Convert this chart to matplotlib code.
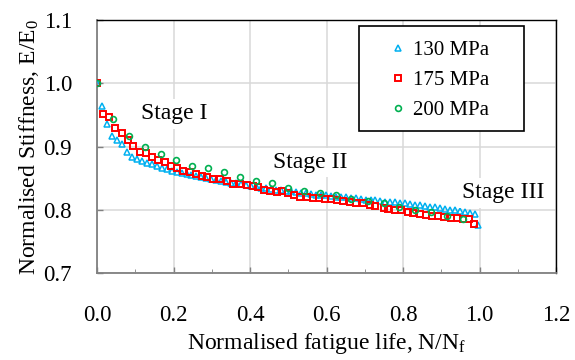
import matplotlib
matplotlib.use("Agg")
import matplotlib.pyplot as plt
from matplotlib.patches import Rectangle

plt.rcParams['font.family'] = ['Liberation Serif', 'DejaVu Serif']
plt.rcParams['mathtext.fontset'] = 'custom'
plt.rcParams['mathtext.rm'] = 'Liberation Serif'
plt.rcParams['mathtext.it'] = 'Liberation Serif'

# 130 MPa
x_130 = [0.000, 0.013, 0.026, 0.039, 0.052, 0.065, 0.078, 0.091, 0.104, 0.117,
         0.130, 0.143, 0.156, 0.169, 0.182, 0.195, 0.208, 0.221, 0.234, 0.247,
         0.260, 0.273, 0.286, 0.299, 0.312, 0.325, 0.338, 0.351, 0.364, 0.377,
         0.390, 0.403, 0.416, 0.429, 0.442, 0.455, 0.468, 0.481, 0.494, 0.507,
         0.520, 0.533, 0.546, 0.559, 0.572, 0.585, 0.598, 0.611, 0.624, 0.637,
         0.650, 0.663, 0.676, 0.689, 0.702, 0.715, 0.728, 0.741, 0.754, 0.767,
         0.780, 0.793, 0.806, 0.819, 0.832, 0.845, 0.858, 0.871, 0.884, 0.897,
         0.910, 0.923, 0.936, 0.949, 0.962, 0.975, 0.987, 0.996]
y_130 = [1.000, 0.964, 0.935, 0.917, 0.910, 0.904, 0.892, 0.884, 0.881, 0.877,
         0.874, 0.872, 0.869, 0.866, 0.864, 0.862, 0.860, 0.858, 0.857, 0.855,
         0.853, 0.852, 0.850, 0.848, 0.847, 0.846, 0.844, 0.843, 0.842, 0.840,
         0.839, 0.838, 0.837, 0.835, 0.834, 0.833, 0.832, 0.831, 0.830, 0.829,
         0.828, 0.827, 0.826, 0.825, 0.824, 0.823, 0.823, 0.822, 0.821, 0.820,
         0.820, 0.819, 0.818, 0.817, 0.816, 0.816, 0.815, 0.814, 0.813, 0.812,
         0.812, 0.811, 0.810, 0.809, 0.808, 0.807, 0.806, 0.805, 0.804, 0.803,
         0.802, 0.800, 0.799, 0.798, 0.796, 0.795, 0.793, 0.776]

# 175 MPa
x_175 = [0.000, 0.015, 0.032, 0.047, 0.065, 0.082, 0.095, 0.112, 0.128, 0.143,
         0.160, 0.178, 0.193, 0.210, 0.226, 0.243, 0.259, 0.274, 0.288, 0.304,
         0.322, 0.339, 0.356, 0.374, 0.391, 0.409, 0.422, 0.437, 0.452, 0.470,
         0.483, 0.499, 0.515, 0.531, 0.548, 0.564, 0.580, 0.596, 0.612, 0.627,
         0.644, 0.661, 0.677, 0.696, 0.714, 0.727, 0.749, 0.762, 0.779, 0.795,
         0.812, 0.827, 0.845, 0.860, 0.875, 0.891, 0.908, 0.925, 0.940, 0.958,
         0.973, 0.986]
y_175 = [1.000, 0.952, 0.946, 0.929, 0.921, 0.910, 0.901, 0.892, 0.890, 0.883,
         0.878, 0.876, 0.869, 0.866, 0.862, 0.860, 0.857, 0.854, 0.852, 0.849,
         0.848, 0.846, 0.840, 0.841, 0.839, 0.837, 0.836, 0.832, 0.829, 0.828,
         0.829, 0.827, 0.824, 0.821, 0.821, 0.818, 0.818, 0.817, 0.817, 0.816,
         0.814, 0.812, 0.811, 0.810, 0.808, 0.806, 0.803, 0.802, 0.800, 0.799,
         0.797, 0.795, 0.793, 0.792, 0.790, 0.790, 0.788, 0.787, 0.787, 0.785,
         0.786, 0.777]

# 200 MPa
x_200 = [0.000, 0.041, 0.084, 0.125, 0.166, 0.207, 0.249, 0.291, 0.333, 0.375,
         0.416, 0.458, 0.499, 0.540, 0.582, 0.624, 0.664, 0.708, 0.749, 0.790,
         0.832, 0.873, 0.916, 0.958]
y_200 = [1.000, 0.943, 0.917, 0.900, 0.889, 0.879, 0.870, 0.866, 0.859, 0.852,
         0.846, 0.842, 0.834, 0.830, 0.826, 0.823, 0.817, 0.814, 0.810, 0.804,
         0.800, 0.796, 0.790, 0.785]

stage_labels = ['Stage I', 'Stage II', 'Stage III']
stage_x = [0.203, 0.557, 1.063]
stage_y = [0.943, 0.866, 0.818]

fig = plt.figure(figsize=(5.75, 3.6), dpi=100)
ax = fig.add_axes([0.1687, 0.2417, 0.7983, 0.7023])

ax.plot(x_130, y_130, linestyle='none', marker='^', markersize=4.6,
        markerfacecolor='none', markeredgecolor='#00B0F0', markeredgewidth=1.1,
        label='130 MPa', zorder=3)
ax.plot(x_175, y_175, linestyle='none', marker='s', markersize=4.5,
        markerfacecolor='none', markeredgecolor='#FF0000', markeredgewidth=1.4,
        label='175 MPa', zorder=4)
ax.plot(x_200, y_200, linestyle='none', marker='o', markersize=4.2,
        markerfacecolor='none', markeredgecolor='#00B050', markeredgewidth=1.2,
        label='200 MPa', zorder=5)

ax.set_xlim(0, 1.2)
ax.set_ylim(0.7, 1.1)
ax.set_xticks([0.0, 0.2, 0.4, 0.6, 0.8, 1.0, 1.2])
ax.set_yticks([0.7, 0.8, 0.9, 1.0, 1.1])
ax.set_xticks([0.1, 0.3, 0.5, 0.7, 0.9, 1.1], minor=True)
ax.set_xticklabels(['0.0', '0.2', '0.4', '0.6', '0.8', '1.0', '1.2'])
ax.set_yticklabels(['0.7', '0.8', '0.9', '1.0', '1.1'])
ax.grid(True, which='major', color='#D9D9D9', linewidth=1.1, zorder=0)
ax.set_axisbelow(True)

ax.tick_params(axis='both', which='major', direction='in', length=4,
               color='#808080', labelsize=16.5, width=1)
ax.tick_params(axis='x', which='minor', direction='in', length=3, color='#808080')
ax.tick_params(axis='x', pad=23)
ax.tick_params(axis='y', pad=18)

for side in ['left', 'bottom']:
    ax.spines[side].set_color('#808080')
    ax.spines[side].set_linewidth(1.3)
for side in ['top', 'right']:
    ax.spines[side].set_color('black')
    ax.spines[side].set_linewidth(1.0)

ax.set_xlabel('Normalised fatigue life, N/N$_\\mathrm{f}$', fontsize=17, labelpad=4)
ax.set_ylabel('Normalised Stiffness, E/E$_\\mathrm{0}$', fontsize=17, labelpad=2)

for lab, sx, sy in zip(stage_labels, stage_x, stage_y):
    ax.text(sx, sy, lab, fontsize=17, ha='center', va='baseline', zorder=6,
            bbox=dict(facecolor='white', edgecolor='none', pad=3))

leg = ax.legend(loc='center', bbox_to_anchor=(0.746, 0.763), fontsize=15,
                frameon=False, labelspacing=0.5, handlelength=0.8,
                handletextpad=0.35, borderpad=0, markerscale=1.0)
ax.add_patch(Rectangle((0.571, 0.561), 0.359, 0.415, transform=ax.transAxes,
                       facecolor='white', edgecolor='black', linewidth=1.2,
                       zorder=5.5))
leg.set_zorder(7)

fig.savefig('out.png', dpi=100)
